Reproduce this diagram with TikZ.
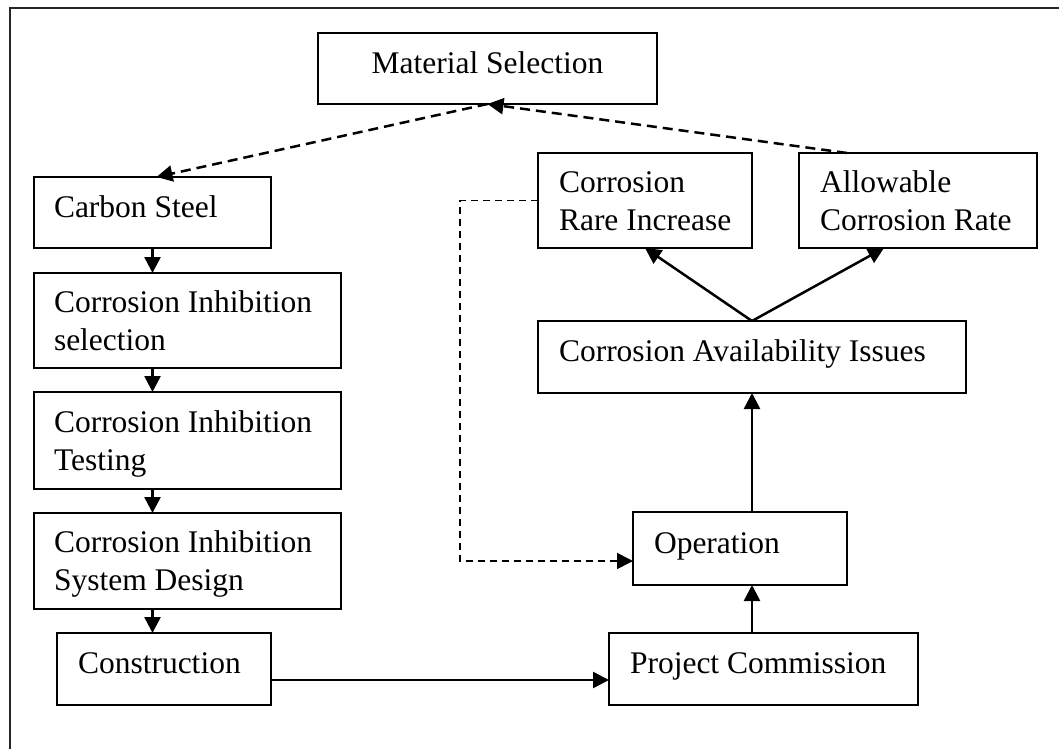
\documentclass[tikz,border=0pt]{standalone}
\usepackage{fontspec}
\setmainfont{Liberation Serif}
\usetikzlibrary{arrows.meta,calc}
\begin{document}
\begin{tikzpicture}[x=1pt,y=-1pt,
  box/.style={draw, line width=2pt, rectangle, inner sep=0pt, outer sep=0pt},
  txt/.style={inner sep=0pt, outer sep=0pt, align=left, font=\fontsize{31.5}{38}\selectfont},
  arr/.style={line width=2.5pt, -{Triangle[length=16pt,width=16pt]}},
  dsh/.style={arr, dash pattern=on 10pt off 6pt},
  fb/.style={line width=1.7pt, dash pattern=on 7pt off 5pt, -{Triangle[length=16pt,width=16pt]}}]
\useasboundingbox (0,0) rectangle (1059,749);
% frame
\draw[line width=2pt, black!85] (10,749) -- (10,8) -- (1059,8);

% boxes
\node[box, minimum width=339, minimum height=71] (ms) at (487.5,68.5) {};
\node[box, minimum width=237, minimum height=71] (cs) at (152.5,212.5) {};
\node[box, minimum width=307, minimum height=95] (cis) at (187.5,320.5) {};
\node[box, minimum width=307, minimum height=97] (cit) at (187.5,440.5) {};
\node[box, minimum width=307, minimum height=96] (cisd) at (187.5,561) {};
\node[box, minimum width=214, minimum height=72] (con) at (164,669) {};
\node[box, minimum width=309, minimum height=72] (pc) at (763.5,669) {};
\node[box, minimum width=214, minimum height=73] (op) at (740,548.5) {};
\node[box, minimum width=428, minimum height=72] (cai) at (752,357) {};
\node[box, minimum width=214, minimum height=95] (cri) at (645,200.5) {};
\node[box, minimum width=238, minimum height=95] (acr) at (918,200.5) {};

% texts
\node[txt, anchor=base] (ms-t) at (487.5,74) {Material Selection};
\node[txt, anchor=base west] (cs-t) at (54,217) {Carbon Steel};
\node[txt, anchor=north west] (cis-t) at (54,285.4) {\strut Corrosion Inhibition\\selection};
\node[txt, anchor=north west] (cit-t) at (54,405.4) {\strut Corrosion Inhibition\\Testing};
\node[txt, anchor=north west] (cisd-t) at (54,525.4) {\strut Corrosion Inhibition\\System Design};
\node[txt, anchor=base west] (con-t) at (78,673) {Construction};
\node[txt, anchor=base west] (pc-t) at (630,673) {Project Commission};
\node[txt, anchor=base west] (op-t) at (654,553) {Operation};
\node[txt, anchor=base west] (cai-t) at (559,361) {Corrosion Availability Issues};
\node[txt, anchor=north west] (cri-t) at (559,165.4) {\strut Corrosion\\Rare Increase};
\node[txt, anchor=north west] (acr-t) at (820,165.4) {\strut Allowable\\Corrosion Rate};

% helper coordinates
\coordinate (ax) at (752,0);
\coordinate (fbx) at (460,0);

% left column arrows
\draw[arr] (cs.south) -- (cs.south |- cis.north);
\draw[arr] (cs.south |- cis.south) -- (cs.south |- cit.north);
\draw[arr] (cs.south |- cit.south) -- (cs.south |- cisd.north);
\draw[arr] (cs.south |- cisd.south) -- (cs.south |- con.north);

% construction -> project commission
\coordinate (c1) at ($(con.east)+(0,11)$);
\draw[arr] (c1) -- (c1 -| pc.west);

% right column
\draw[arr] (ax |- pc.north) -- (ax |- op.south);
\draw[arr] (ax |- op.north) -- (ax |- cai.south);
\draw[arr] (cai.north) -- (cri.south);
\coordinate (acrb) at ($(acr.south west)+(85,0)$);
\draw[arr] (cai.north) -- (acrb);

% dashed to/from material selection
\coordinate (acrt) at ($(acr.north west)+(48,0)$);
\draw[dsh] (acrt) -- (ms.south);
\coordinate (cst) at ($(cs.north)+(4,0)$);
\draw[dsh] (ms.south) -- (cst);

% feedback dashed
\coordinate (opw) at ($(op.west)+(0,12.5)$);
\draw[fb] (cri.west) -- (fbx |- cri.west) -- (fbx |- opw) -- (opw);
\end{tikzpicture}
\end{document}
